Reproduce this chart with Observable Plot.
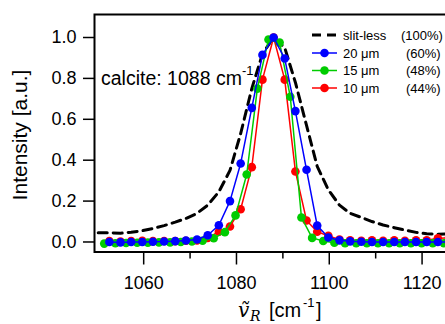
<!DOCTYPE html>
<html><head><meta charset="utf-8">
<script src="https://cdn.jsdelivr.net/npm/d3@7"></script>
<script src="https://cdn.jsdelivr.net/npm/@observablehq/plot@0.6"></script>
<style>
html,body{margin:0;padding:0;background:#fff;overflow:hidden;}
#chart{position:relative;width:445px;height:324px;overflow:hidden;}
</style></head><body><div id="chart"></div>
<script>
// Raman shift grid (cm-1) for slit-less, 20 µm and 10 µm spectra
const xSlitless = [1050.2,1052.6,1055.0,1057.3,1059.7,1062.0,1064.4,1066.8,1069.1,1071.5,1073.8,1076.2,1078.6,1080.9,1083.3,1085.6,1088.0,1090.4,1092.7,1095.1,1097.4,1099.8,1102.2,1104.5,1106.9,1109.2,1111.6,1114.0,1116.3,1118.7,1121.0,1123.4,1125.8];
const ySlitless = [0.045,0.045,0.043,0.048,0.055,0.066,0.080,0.097,0.115,0.140,0.180,0.245,0.350,0.530,0.750,0.920,1.000,0.950,0.780,0.570,0.370,0.255,0.180,0.140,0.120,0.100,0.083,0.070,0.058,0.047,0.040,0.038,0.040];

const x20 = [1052.6,1055.0,1057.3,1059.7,1062.0,1064.4,1066.8,1069.1,1071.5,1073.8,1076.2,1078.6,1080.9,1083.3,1085.6,1088.0,1090.4,1092.7,1095.1,1097.4,1099.8,1102.2,1104.5,1106.9,1109.2,1111.6,1114.0,1116.3,1118.7,1121.0,1123.4,1125.8];
const y20 = [0.000,-0.002,0.000,0.000,0.001,0.002,0.004,0.007,0.012,0.033,0.082,0.200,0.384,0.656,0.915,1.000,0.897,0.640,0.353,0.080,0.022,0.008,0.003,0.001,0.000,0.000,0.000,0.000,0.000,0.000,0.000,0.000];

const x15 = [1051.5,1053.9,1056.2,1058.6,1060.9,1063.3,1065.7,1068.0,1070.4,1072.7,1075.1,1077.5,1079.8,1082.2,1084.5,1086.9,1089.3,1091.6,1094.0,1096.3,1098.7,1101.1,1103.4,1105.8,1108.1,1110.5,1112.9,1115.2,1117.6,1119.9,1122.3,1124.7];
const y15 = [-0.008,-0.006,-0.005,-0.004,-0.003,-0.002,-0.002,0.000,0.002,0.006,0.018,0.048,0.130,0.330,0.750,0.990,0.975,0.710,0.120,0.020,0.005,-0.004,-0.006,-0.006,-0.006,-0.006,-0.006,-0.006,-0.006,-0.006,-0.006,-0.006];

const x10 = [1052.6,1055.0,1057.3,1059.7,1062.0,1064.4,1066.8,1069.1,1071.5,1073.8,1076.2,1078.6,1080.9,1083.3,1085.6,1088.0,1090.4,1092.7,1095.1,1097.4,1099.8,1102.2,1104.5,1106.9,1109.2,1111.6,1114.0,1116.3,1118.7,1121.0,1123.4,1125.8];
const y10 = [0.004,0.002,0.004,0.006,0.004,0.005,0.004,0.006,0.008,0.020,0.050,0.076,0.160,0.366,0.794,1.000,0.794,0.345,0.105,0.050,0.030,0.012,0.008,0.006,0.008,0.006,0.008,0.006,0.008,0.008,0.018,0.020];

const xTicks = [1060, 1080, 1100, 1120];
const xMinorTicks = [1070, 1090, 1110];
const yTicks = [0.0, 0.2, 0.4, 0.6, 0.8, 1.0];

const seriesNames = ["slit-less", "20 μm", "15 μm", "10 μm"];
const seriesPct = ["(100%)", "(60%)", "(48%)", "(44%)"];
const seriesColors = ["#000000", "#0000ff", "#00cc00", "#ff0000"];

const toRows = (xs, ys) => xs.map((x, i) => ({x, y: ys[i]}));
const slit = toRows(xSlitless, ySlitless);
const s20 = toRows(x20, y20);
const s15 = toRows(x15, y15);
const s10 = toRows(x10, y10);

const font = "'Liberation Sans', Arial, sans-serif";

const plot = Plot.plot({
  width: 445,
  height: 324,
  marginLeft: 94,
  marginTop: 14,
  marginBottom: 72.5,
  marginRight: -20,
  style: {fontFamily: font, fontSize: "18px", color: "#000", background: "#fff"},
  x: {domain: [1049.4, 1129.36]},
  y: {domain: [-0.049, 1.1125]},
  marks: [
    Plot.line(slit, {x: "x", y: "y", stroke: seriesColors[0], strokeWidth: 3, strokeDasharray: "9,6", curve: "linear"}),
    Plot.line(s10, {x: "x", y: "y", stroke: seriesColors[3], strokeWidth: 1.5}),
    Plot.dot(s10, {x: "x", y: "y", fill: seriesColors[3], r: 4.3}),
    Plot.line(s15, {x: "x", y: "y", stroke: seriesColors[2], strokeWidth: 1.5}),
    Plot.dot(s15, {x: "x", y: "y", fill: seriesColors[2], r: 4.3}),
    Plot.line(s20, {x: "x", y: "y", stroke: seriesColors[1], strokeWidth: 1.5}),
    Plot.dot(s20, {x: "x", y: "y", fill: seriesColors[1], r: 4.3}),
    Plot.frame({stroke: "#000", strokeWidth: 2}),
    Plot.axisY(yTicks, {anchor: "left", tickSize: 11, tickPadding: 7, tickFormat: d3.format(".1f"), label: null, fontSize: 18, strokeWidth: 1.5}),
    Plot.axisX(xTicks, {anchor: "bottom", tickSize: 13, tickPadding: 11, tickFormat: d => String(d), label: null, fontSize: 18, strokeWidth: 1.5}),
    Plot.axisX(xMinorTicks, {anchor: "bottom", tickSize: 7, text: null, label: null, strokeWidth: 1.5})
  ]
});

document.getElementById("chart").appendChild(plot);
const svg = d3.select(plot);

// Y axis title
svg.append("text")
  .attr("transform", "translate(27,135) rotate(-90)")
  .attr("text-anchor", "middle")
  .attr("font-family", font)
  .attr("font-size", 21)
  .attr("fill", "#000")
  .text("Intensity [a.u.]");

// X axis title
const xt = svg.append("text")
  .attr("text-anchor", "start")
  .attr("font-size", 20)
  .attr("fill", "#000")
  .attr("font-family", font);
xt.append("tspan").attr("x", 238).attr("y", 317)
  .attr("font-family", "'DejaVu Serif', 'Liberation Serif', serif").attr("font-style", "italic").text("ṽ");
xt.append("tspan").attr("x", 250).attr("y", 321)
  .attr("font-family", "'DejaVu Serif', 'Liberation Serif', serif").attr("font-style", "italic").attr("font-size", 14).text("R");
xt.append("tspan").attr("x", 269).attr("y", 317).text("[cm");
xt.append("tspan").attr("x", 303).attr("y", 307).attr("font-size", 13).text("-1");
xt.append("tspan").attr("x", 316).attr("y", 317).text("]");

// Annotation
const an = svg.append("text")
  .attr("text-anchor", "start")
  .attr("x", 101).attr("y", 85)
  .attr("font-family", font).attr("font-size", 19.5).attr("fill", "#000");
an.append("tspan").text("calcite: 1088 cm");
an.append("tspan").attr("dy", -10).attr("font-size", 13).text("-1");

// Legend
const rowsY = [35, 53, 70.5, 88];
const pctX = [401, 406, 406, 406];
const lg = svg.append("g").attr("text-anchor", "start").attr("font-family", font).attr("font-size", 13).attr("fill", "#000");
seriesNames.forEach((name, i) => {
  const yy = rowsY[i];
  if (i === 0) {
    lg.append("line").attr("x1", 312).attr("x2", 337).attr("y1", yy).attr("y2", yy)
      .attr("stroke", seriesColors[i]).attr("stroke-width", 3).attr("stroke-dasharray", "9,6");
  } else {
    lg.append("line").attr("x1", 312).attr("x2", 337).attr("y1", yy).attr("y2", yy)
      .attr("stroke", seriesColors[i]).attr("stroke-width", 1.5);
    lg.append("circle").attr("cx", 324.5).attr("cy", yy).attr("r", 4.3).attr("fill", seriesColors[i]);
  }
  lg.append("text").attr("x", 343).attr("y", yy).attr("dy", "0.35em").text(name);
  lg.append("text").attr("x", pctX[i]).attr("y", yy).attr("dy", "0.35em").text(seriesPct[i]);
});
</script>
</body></html>
